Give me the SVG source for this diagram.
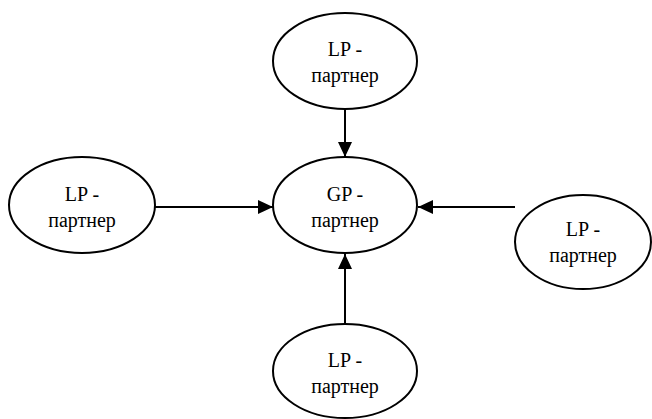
<svg xmlns="http://www.w3.org/2000/svg" width="652" height="419" viewBox="0 0 652 419">
<defs>
<style>
.n ellipse{fill:#fff;stroke:#000;stroke-width:2}
.n text{font-family:'Liberation Serif','Times New Roman',serif;font-size:20px;text-anchor:middle;fill:#000}
.e line{stroke:#000;stroke-width:2}
</style>
<marker id="ah" markerWidth="15" markerHeight="14" refX="15" refY="7" orient="auto" markerUnits="userSpaceOnUse">
<path d="M0,0 L15,7 L0,14 Z" fill="#000"/>
</marker>
</defs>
<rect width="652" height="419" fill="#fff"/>
<g id="edges" class="e">
<line x1="345" y1="109" x2="345" y2="157" marker-end="url(#ah)"/>
<line x1="155" y1="207" x2="273" y2="207" marker-end="url(#ah)"/>
<line x1="515" y1="207" x2="418" y2="207" marker-end="url(#ah)"/>
<line x1="345" y1="325" x2="345" y2="254" marker-end="url(#ah)"/>
</g>
<g id="lp-top" class="n">
<ellipse cx="345" cy="61" rx="72" ry="48"/>
<text x="345" y="56">LP -</text>
<text x="345" y="82">партнер</text>
</g>
<g id="gp-center" class="n">
<ellipse cx="345" cy="205" rx="72" ry="48"/>
<text x="345" y="201">GP -</text>
<text x="345" y="227">партнер</text>
</g>
<g id="lp-left" class="n">
<ellipse cx="82" cy="205" rx="73" ry="48"/>
<text x="82" y="201">LP -</text>
<text x="82" y="227">партнер</text>
</g>
<g id="lp-right" class="n">
<ellipse cx="583" cy="242" rx="68" ry="47"/>
<text x="583" y="236">LP -</text>
<text x="583" y="262">партнер</text>
</g>
<g id="lp-bottom" class="n">
<ellipse cx="345" cy="371" rx="72" ry="47"/>
<text x="345" y="367">LP -</text>
<text x="345" y="393">партнер</text>
</g>
</svg>
